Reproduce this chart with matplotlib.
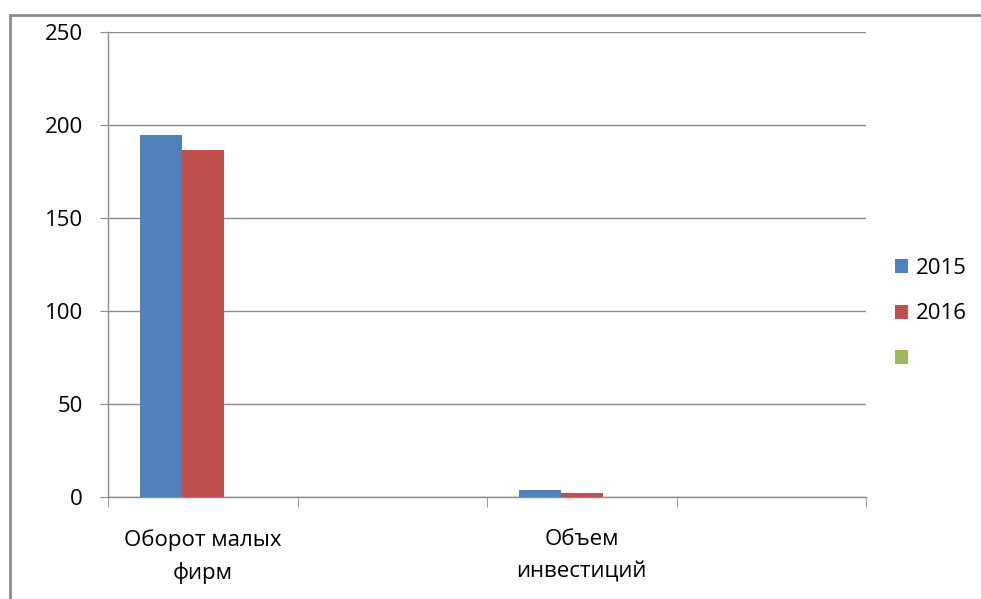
import matplotlib.pyplot as plt
from matplotlib.patches import Rectangle, Patch

plt.rcParams['font.family'] = ['Open Sans', 'DejaVu Sans']

categories = ['Оборот малых\nфирм', '', 'Объем\nинвестиций', '']
values_2015 = [194.5, 0, 3.5, 0]
values_2016 = [186.5, 0, 2.4, 0]
values_3 = [0, 0, 0, 0]
series_labels = ['2015', '2016', ' ']
colors = ['#4F81BD', '#C0504D', '#9BBB59']

fig = plt.figure(figsize=(9.81, 5.99), dpi=100)
W, H = 981, 599
ax = fig.add_axes([108 / W, (H - 497) / H, (866 - 108) / W, (497 - 32) / H])

# внешняя рамка диаграммы
fig.patches.append(Rectangle((10 / W, -0.1), 1.2, 1.1 - 15 / H, transform=fig.transFigure,
                             fill=False, edgecolor='#8c8c8c', linewidth=2))

x = list(range(len(categories)))
w = 0.221
all_vals = [values_2015, values_2016, values_3]
for i, vals in enumerate(all_vals):
    xs = [xi + (i - 1) * w for xi in x]
    ax.bar(xs, vals, width=w, color=colors[i], linewidth=0, zorder=3)

ax.set_xlim(-0.5, 3.5)
ax.set_ylim(0, 250)
ax.set_yticks([0, 50, 100, 150, 200, 250])
ax.yaxis.grid(True, color='#8c8c8c', linewidth=1)
ax.set_axisbelow(True)

ax.set_xticks(x)
ax.set_xticklabels(categories, fontsize=16, linespacing=1.65)
ax.set_xticks([-0.5, 0.5, 1.5, 2.5, 3.5], minor=True)
ax.tick_params(axis='x', which='major', length=0, pad=23)
ax.tick_params(axis='x', which='minor', length=7, color='#8c8c8c', direction='out')
ax.tick_params(axis='y', length=6, color='#8c8c8c', labelsize=16, pad=12)

for s in ['top', 'right']:
    ax.spines[s].set_visible(False)
for s in ['left', 'bottom']:
    ax.spines[s].set_color('#8c8c8c')
    ax.spines[s].set_linewidth(1)

handles = [Patch(facecolor=c, edgecolor='none') for c in colors]
fig.legend(handles, series_labels, loc='upper left', bbox_to_anchor=(875 / W, 1 - 238 / H),
           frameon=False, fontsize=16, handlelength=0.6, handleheight=0.6,
           labelspacing=1.1, handletextpad=0.35)

fig.savefig('out.png', dpi=100)
